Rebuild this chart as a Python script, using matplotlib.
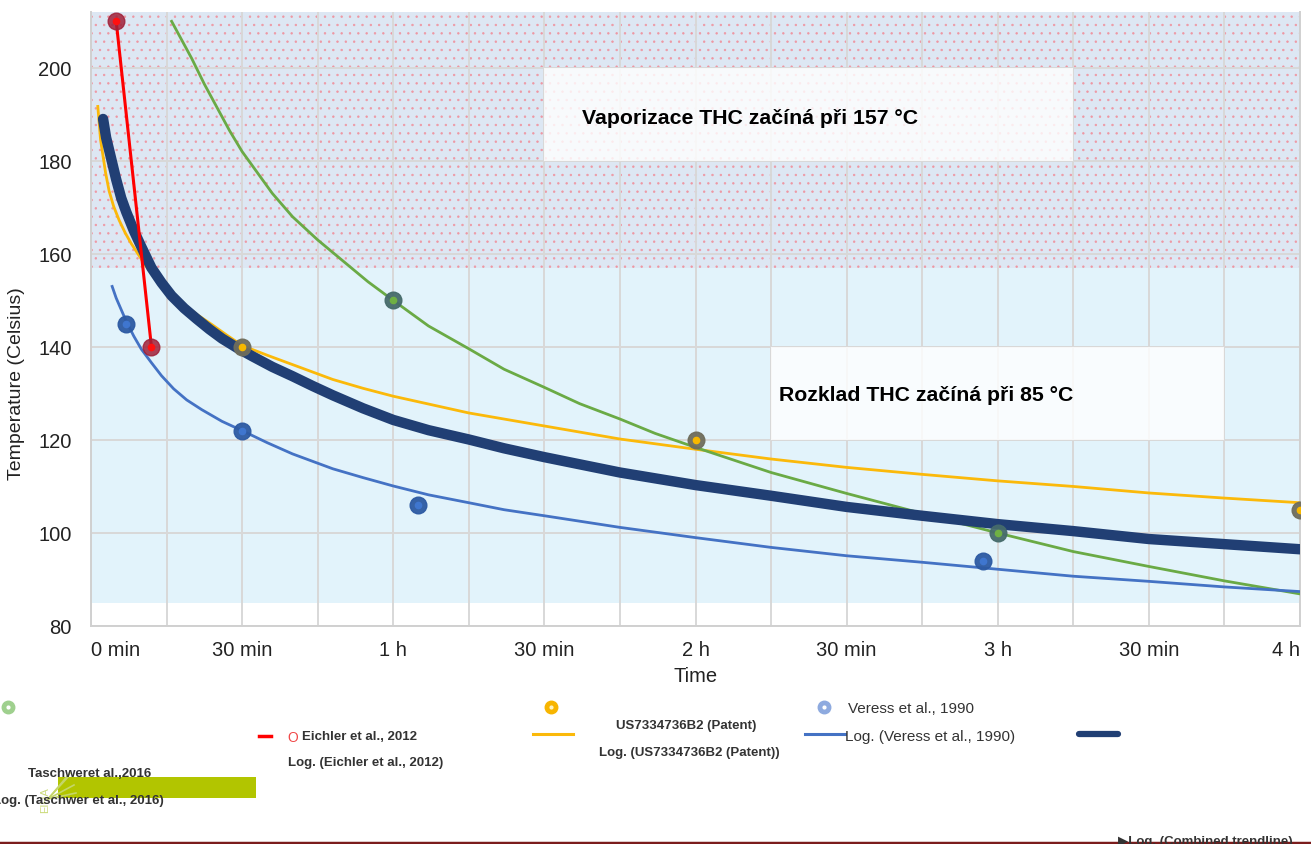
import matplotlib
matplotlib.use("Agg")
import matplotlib.pyplot as plt
from matplotlib.patches import Rectangle

plt.rcParams['font.family'] = ['Liberation Sans', 'DejaVu Sans']
plt.rcParams['hatch.linewidth'] = 0.5
plt.rcParams['lines.solid_joinstyle'] = 'round'

# measured points (time in minutes, temperature in Celsius)
eichler_t = [5, 12]
eichler_temp = [210, 140]
taschwer_t = [60, 180]
taschwer_temp = [150, 100]
patent_t = [30, 120, 240]
patent_temp = [140, 120, 105]
veress_t = [7, 30, 65, 177]
veress_temp = [145, 122, 106, 94]

# logarithmic trendlines
taschwer_trend_t = [16, 18, 20, 22.5, 25, 27.5, 30, 33, 36, 40, 45, 50, 55, 60, 67, 75, 82, 90, 97, 105,
                    112, 120, 135, 150, 165, 180, 195, 210, 225, 240]
taschwer_trend = [210, 206, 202, 196.5, 191.5, 186.5, 182, 177.5, 173, 168, 163, 158.5, 154, 150, 144.5,
                  139.6, 135.2, 131.3, 127.8, 124.5, 121.4, 118.4, 113, 108.5, 104.2, 100, 96, 92.8,
                  89.7, 86.9]
patent_trend_t = [1.35, 1.9, 2.9, 3.6, 4.5, 5.6, 6.8, 8, 9.2, 11, 13, 15.5, 18, 21, 24, 27, 30, 35, 40,
                  48, 54, 60, 75, 90, 105, 120, 135, 150, 165, 180, 195, 210, 225, 240]
patent_trend = [191.7, 184.5, 177.4, 173.5, 170.2, 167.2, 164.5, 162.2, 160.2, 157.2, 154.6, 151.8,
                149.5, 147, 144.8, 142.5, 140.3, 138.2, 136.2, 133, 131.1, 129.4, 125.8, 123, 120.2,
                118, 115.9, 114.1, 112.6, 111.2, 110, 108.6, 107.5, 106.5]
veress_trend_t = [4.2, 5, 6, 7, 8.5, 10, 12, 14, 16.4, 19, 22, 26, 30, 35, 40, 48, 54, 60, 67, 75, 82,
                  90, 105, 120, 135, 150, 165, 180, 195, 210, 225, 240]
veress_trend = [153, 150.5, 148, 145.5, 142.3, 139.5, 136.6, 133.8, 131, 128.6, 126.5, 124, 122, 119.4,
                117, 113.8, 111.9, 110.1, 108.2, 106.5, 105, 103.7, 101.2, 99, 96.9, 95.1, 93.7, 92.2,
                90.7, 89.6, 88.4, 87.4]
combined_t = [2.4, 3, 4, 5, 6, 7, 8.5, 10, 12, 14, 16, 18.5, 21, 23.5, 26, 29, 32, 36, 40, 44, 48, 54,
              60, 67, 75, 82, 90, 105, 120, 135, 150, 165, 180, 195, 210, 225, 240]
combined = [189, 185, 180.5, 176, 172, 169, 165, 161.5, 157, 153.8, 151, 148.3, 146, 143.8, 141.8,
            139.8, 138, 135.7, 133.7, 131.6, 129.6, 126.8, 124.3, 122.1, 120.1, 118.2, 116.3, 113,
            110.3, 108, 105.6, 103.7, 101.9, 100.4, 98.7, 97.6, 96.5]

x_ticks = [0, 30, 60, 90, 120, 150, 180, 210, 240]
x_labels = ['0 min', '30 min', '1 h', '30 min', '2 h', '30 min', '3 h', '30 min', '4 h']
y_ticks = [80, 100, 120, 140, 160, 180, 200]

W, H = 1311, 845
fig = plt.figure(figsize=(W / 100, H / 100), dpi=100)
ax = fig.add_axes([91 / W, 1 - 627 / H, (1300 - 91) / W, (627 - 13) / H])
ax.set_xlim(0, 240)
ax.set_ylim(80, 212)

# zones
ax.fill_between([0, 240], 85, 157, facecolor='#e2f3fb', lw=0, zorder=0.1)
ax.fill_between([0, 240], 157, 212, facecolor='#dde7f3', edgecolor='#ee97a3', hatch='..', lw=0, zorder=0.1)

ax.set_xticks(x_ticks)
ax.set_xticklabels(x_labels)
ax.set_xticks(range(0, 241, 15), minor=True)
ax.set_yticks(y_ticks)
ax.grid(True, which='both', color='#d8d8d8', lw=1.4)
ax.set_axisbelow(True)
ax.tick_params(which='both', length=0)
ax.tick_params(axis='x', pad=10, labelsize=14.5, labelcolor='#222')
ax.tick_params(axis='y', pad=14, labelsize=14.5, labelcolor='#222')
xl = ax.get_xticklabels()
xl[0].set_ha('left')
xl[-1].set_ha('right')
ax.spines['top'].set_visible(False)
for s in ['left', 'bottom', 'right']:
    ax.spines[s].set_color('#d0d0d0')
    ax.spines[s].set_linewidth(1.4)
ax.set_xlabel('Time', fontsize=14.5, color='#222', labelpad=5)

# annotation boxes
ax.add_patch(Rectangle((90, 180), 105, 20, facecolor='white', alpha=0.8, lw=0, zorder=1.5))
ax.add_patch(Rectangle((135, 120), 90, 20, facecolor='white', alpha=0.8, lw=0, zorder=1.5))
ax.text(97.5, 189.4, 'Vaporizace THC začíná při 157 °C', fontsize=15.3, fontweight='bold',
        va='center', ha='left', zorder=3)
ax.text(136.6, 129.8, 'Rozklad THC začíná při 85 °C', fontsize=15.3, fontweight='bold',
        va='center', ha='left', zorder=3)

# trendlines
ax.plot(patent_trend_t, patent_trend, color='#fbb90a', lw=2, zorder=4)
ax.plot(taschwer_trend_t, taschwer_trend, color='#6aaa45', lw=2, zorder=4)
ax.plot(veress_trend_t, veress_trend, color='#4472c4', lw=2, zorder=4)
ax.plot(combined_t, combined, color='#213f74', lw=7.5, solid_capstyle='round', zorder=5)
ax.plot(eichler_t, eichler_temp, color='#ff0000', lw=2.2, zorder=6)

# points
ax.plot(taschwer_t, taschwer_temp, 'o', ms=12, color='#466b6b', alpha=0.95, zorder=7)
ax.plot(taschwer_t, taschwer_temp, 'o', ms=4.5, color='#6fb043', zorder=8)
ax.plot(patent_t, patent_temp, 'o', ms=12, color='#6f6d5c', alpha=0.95, zorder=7)
ax.plot(patent_t, patent_temp, 'o', ms=4.5, color='#f7b800', zorder=8)
ax.plot(veress_t, veress_temp, 'o', ms=12, color='#2d5aa3', alpha=0.95, zorder=7)
ax.plot(veress_t, veress_temp, 'o', ms=4.5, color='#3f76cf', zorder=8)
ax.plot(eichler_t, eichler_temp, 'o', ms=12, color='#a02038', alpha=0.85, zorder=7)
ax.plot(eichler_t, eichler_temp, 'o', ms=4.5, color='#ff1010', zorder=8)

# overlay in pixel coordinates for the label and the legend block
lay = fig.add_axes([0, 0, 1, 1])
lay.set_xlim(0, W)
lay.set_ylim(H, 0)
lay.axis('off')

lay.text(17, 384, 'Temperature (Celsius)', rotation=90, fontsize=14, color='#222',
         ha='center', va='center')

lab = dict(fontsize=9.5, fontweight='bold', color='#333', va='center')
reg = dict(fontsize=11, color='#333', va='center')

lay.plot([8], [708], 'o', ms=9, color='#9fd08e')
lay.plot([8], [708], 'o', ms=2, color='white')
lay.plot([259, 271], [737, 737], color='#ff0000', lw=2.5)
lay.text(287, 738, 'O', fontsize=10, color='#f04848', va='center')
lay.text(302, 737, 'Eichler et al., 2012', **lab)
lay.text(288, 763, 'Log. (Eichler et al., 2012)', **lab)

lay.add_patch(Rectangle((58, 778), 198, 21, facecolor='#b2c500', lw=0))
for dx, dy in [(20, -22), (26, -14), (28, -6), (22, -26)]:
    lay.plot([48, 48 + dx], [800, 800 + dy], color='#c5d66a', lw=1.2)
lay.text(45, 800, 'EIHA', rotation=90, fontsize=8, color='#cbdb7a', ha='center', va='center')
lay.text(28, 774, 'Taschweret al.,2016', ha='left', **lab)
lay.text(164, 801, 'Log. (Taschwer et al., 2016)', ha='right', **lab)

lay.plot([551], [708], 'o', ms=9, color='#f7b500')
lay.plot([551], [708], 'o', ms=2, color='#fff3c0')
lay.plot([533, 573], [735, 735], color='#fbb90a', lw=2.2)
lay.text(686, 726, 'US7334736B2 (Patent)', ha='center', **lab)
lay.text(689, 753, 'Log. (US7334736B2 (Patent))', ha='center', **lab)

lay.plot([824], [708], 'o', ms=9, color='#8eaadf')
lay.plot([824], [708], 'o', ms=2, color='white')
lay.text(848, 709, 'Veress et al., 1990', ha='left', **reg)
lay.plot([805, 845], [735, 735], color='#4472c4', lw=2.2)
lay.text(845, 737, 'Log. (Veress et al., 1990)', ha='left', **reg)

lay.plot([1079, 1118], [735, 735], color='#213f74', lw=4.5, solid_capstyle='round')
lay.text(1118, 836, '▶Log. (Combined trendline)', ha='left', fontsize=9.5, fontweight='bold',
         color='#333', va='top')
lay.plot([0, W], [844, 844], color='#7b1c1c', lw=2.5)

fig.savefig('out.png', dpi=100)
